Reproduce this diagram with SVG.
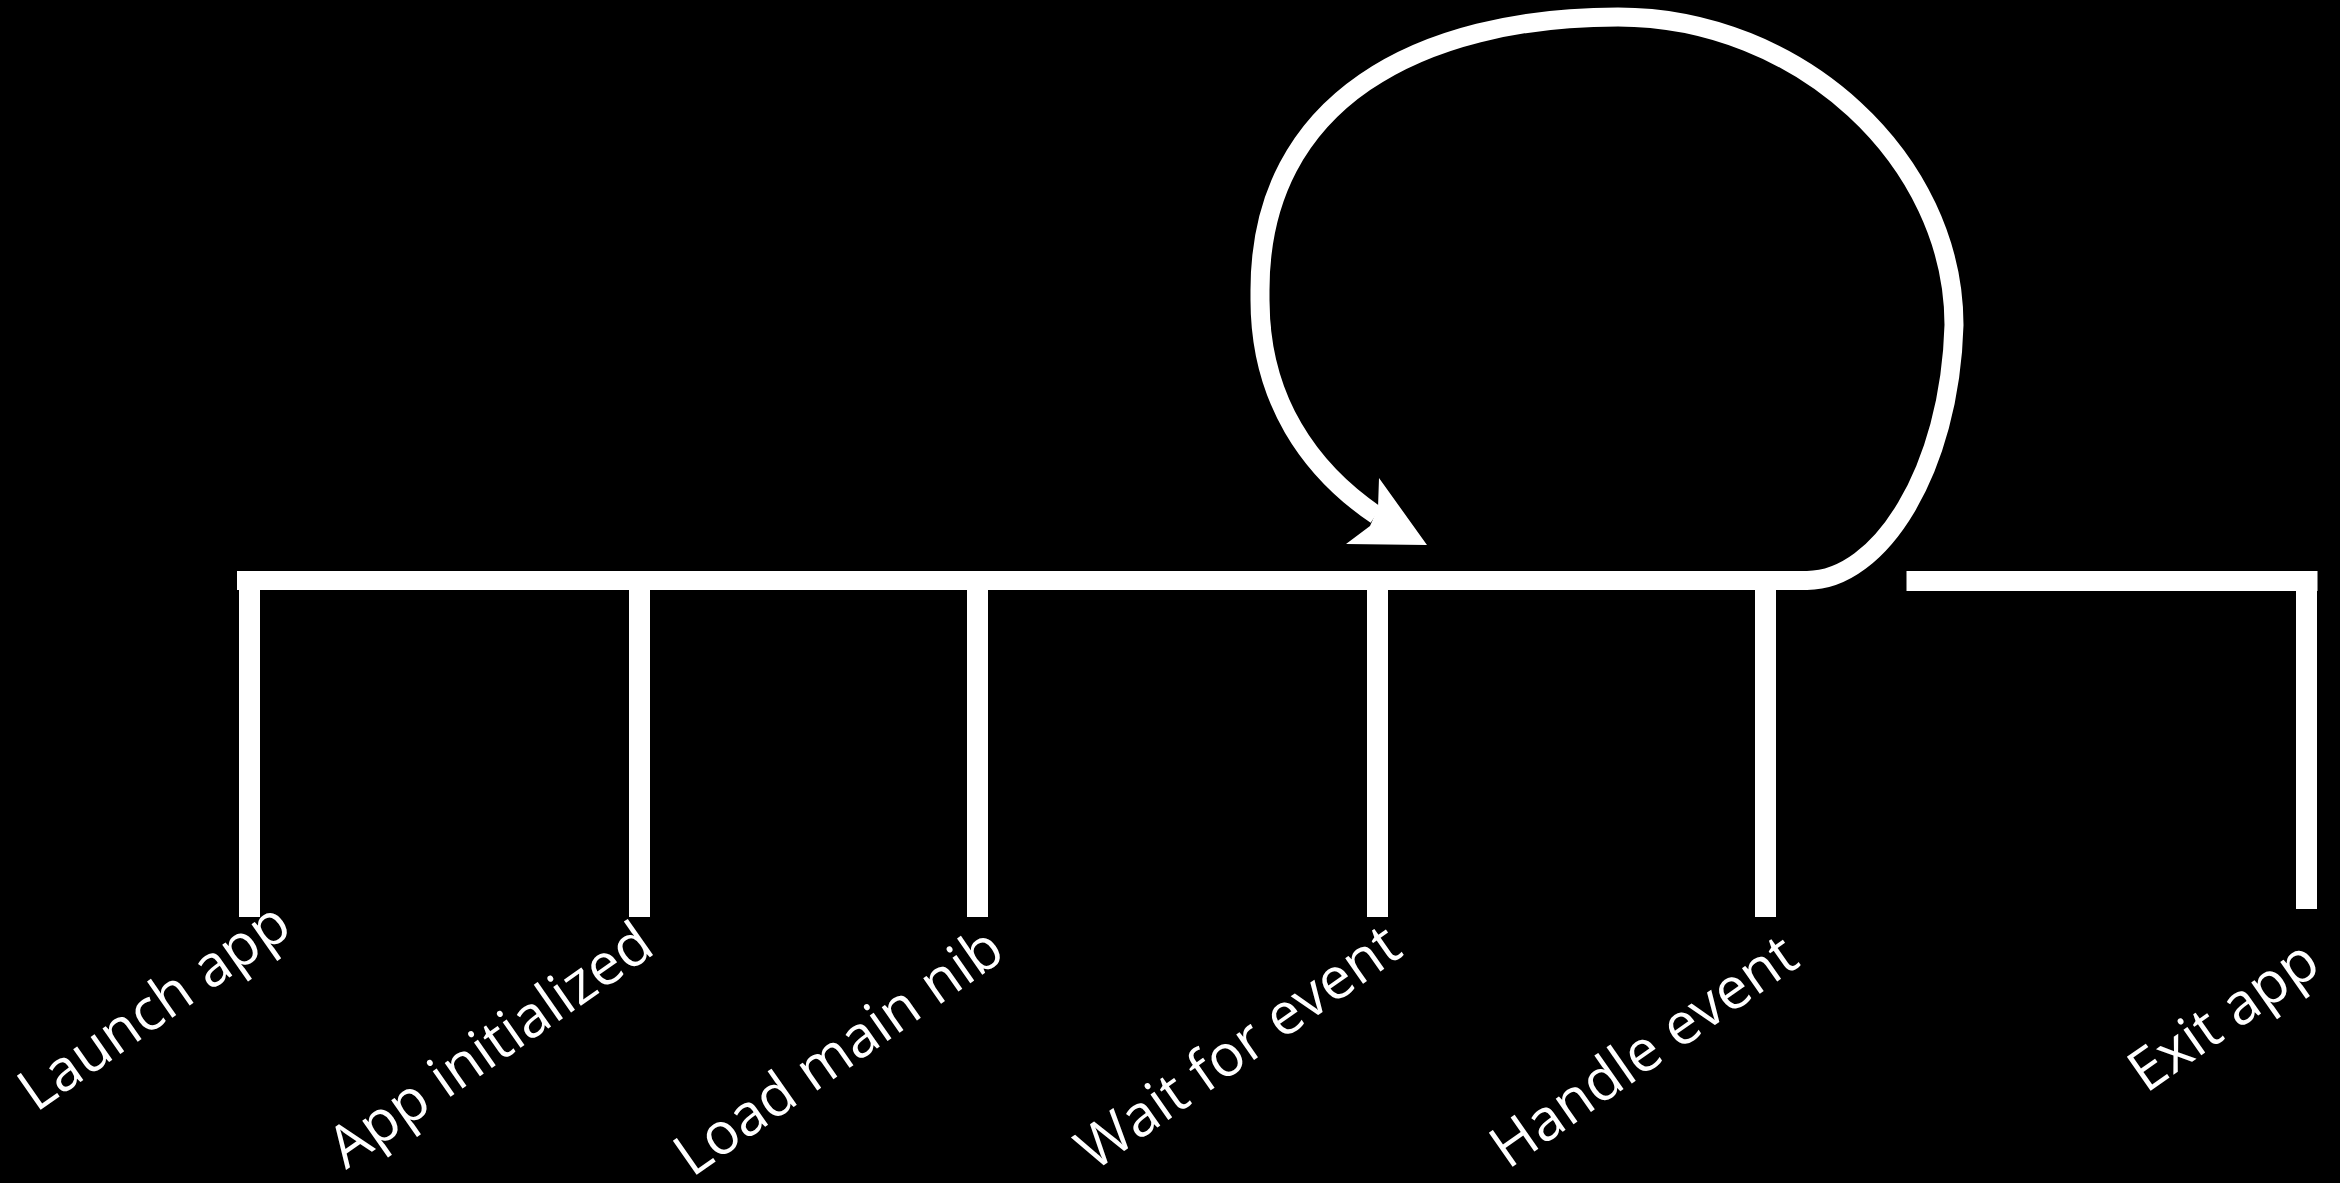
<svg xmlns="http://www.w3.org/2000/svg" width="2340" height="1183" viewBox="0 0 2340 1183">
<style>
.tick{fill:#fff}
.lbl{fill:#fff;font-family:"Open Sans","Noto Sans",sans-serif;font-size:58px}
.line{fill:none;stroke:#fff;stroke-width:19}
</style>
<rect x="0" y="0" width="2340" height="1183" fill="#000"/>
<g id="connectors">
<path class="line" d="M237,580.5 L1807,580.5 C1880,580.5 1950,470 1954,325 C1954,160 1800,17 1618,17 C1420,17 1260,100 1260,290 L1260,300 C1260,400 1310,470 1376,515"/>
<polygon fill="#fff" points="1379,478 1427,545 1346,544 1370,526 1378,508"/>
<rect x="1906.5" y="571" width="411" height="20" fill="#fff"/>
</g>
<g id="launch-app"><rect class="tick" x="239" y="575" width="21" height="342"/><text class="lbl" transform="translate(36,1113) rotate(-35)">Launch app</text></g>
<g id="app-initialized"><rect class="tick" x="629" y="575" width="21" height="342"/><text class="lbl" transform="translate(346,1170) rotate(-35)">App initialized</text></g>
<g id="load-main-nib"><rect class="tick" x="967" y="575" width="21" height="342"/><text class="lbl" transform="translate(692,1178) rotate(-35)">Load main nib</text></g>
<g id="wait-for-event"><rect class="tick" x="1367" y="575" width="21" height="342"/><text class="lbl" transform="translate(1094,1172) rotate(-35)">Wait for event</text></g>
<g id="handle-event"><rect class="tick" x="1755" y="575" width="21" height="342"/><text class="lbl" transform="translate(1508,1170) rotate(-35)">Handle event</text></g>
<g id="exit-app"><rect class="tick" x="2296" y="575" width="21" height="334"/><text class="lbl" transform="translate(2146,1094) rotate(-35)">Exit app</text></g>
</svg>
